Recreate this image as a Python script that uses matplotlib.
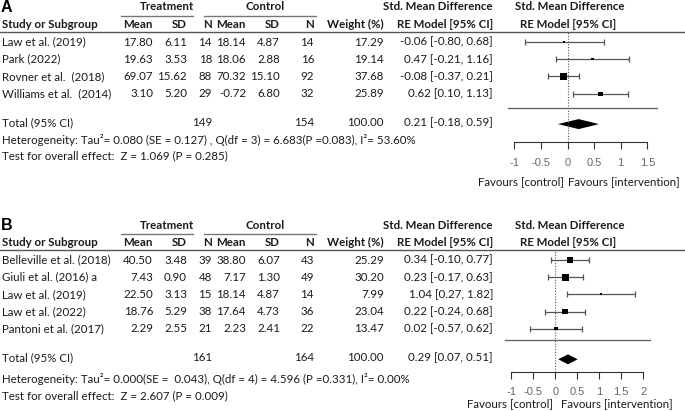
import numpy as np
import matplotlib.pyplot as plt

# ---- panel A data
a_study = ['Law et al. (2019)', 'Park (2022)', 'Rovner et al.  (2018)', 'Williams et al.  (2014)']
a_t_mean = ['17.80', '19.63', '69.07', '3.10']
a_t_sd = ['6.11', '3.53', '15.62', '5.20']
a_t_n = [14, 18, 88, 29]
a_c_mean = ['18.14', '18.06', '70.32', '-0.72']
a_c_sd = ['4.87', '2.88', '15.10', '6.80']
a_c_n = [14, 16, 92, 32]
a_weight = [17.29, 19.14, 37.68, 25.89]
a_smd = [-0.06, 0.47, -0.08, 0.62]
a_lo = [-0.80, -0.21, -0.37, 0.10]
a_hi = [0.68, 1.16, 0.21, 1.13]
a_total = [0.21, -0.18, 0.59]
a_het = 'Heterogeneity: Tau\u00b2= 0.080 (SE = 0.127) , Q(df = 3) = 6.683(P =0.083), I\u00b2= 53.60%'
a_test = 'Test for overall effect:  Z = 1.069 (P = 0.285)'
a_ticks = [-1, -0.5, 0, 0.5, 1, 1.5]

# ---- panel B data
b_study = ['Belleville et al. (2018)', 'Giuli et al. (2016) a', 'Law et al. (2019)',
           'Law et al. (2022)', 'Pantoni et al. (2017)']
b_t_mean = ['40.50', '7.43', '22.50', '18.76', '2.29']
b_t_sd = ['3.48', '0.90', '3.13', '5.29', '2.55']
b_t_n = [39, 48, 15, 38, 21]
b_c_mean = ['38.80', '7.17', '18.14', '17.64', '2.23']
b_c_sd = ['6.07', '1.30', '4.87', '4.73', '2.41']
b_c_n = [43, 49, 14, 36, 22]
b_weight = [25.29, 30.20, 7.99, 23.04, 13.47]
b_smd = [0.34, 0.23, 1.04, 0.22, 0.02]
b_lo = [-0.10, -0.17, 0.27, -0.24, -0.57]
b_hi = [0.77, 0.63, 1.82, 0.68, 0.62]
b_total = [0.29, 0.07, 0.51]
b_het = 'Heterogeneity: Tau\u00b2= 0.000(SE =  0.043), Q(df = 4) = 4.596 (P =0.331), I\u00b2= 0.00%'
b_test = 'Test for overall effect:  Z = 2.607 (P = 0.009)'
b_ticks = [-1, -0.5, 0, 0.5, 1, 1.5, 2]

W, H = 685, 411
FONT = 'Lato'
FS = 8.3
TXT = '#1a1a1a'

fig = plt.figure(figsize=(W / 100, H / 100), dpi=100)
tx = fig.add_axes([0, 0, 1, 1])
tx.set_xlim(0, W)
tx.set_ylim(H, 0)
tx.axis('off')


def t(x, y, s, ha='left', bold=False, **kw):
    tx.text(x, y, s, ha=ha, va='center', fontsize=kw.pop('fs', FS), family=kw.pop('family', FONT),
            fontweight='bold' if bold else 'normal', color=kw.pop('color', TXT), **kw)


# column right edges
cols = [153, 187, 212, 246, 280, 314, 384, 493]


def panel(letter, y0, study, tm, tsd, tn, cm, csd, cn, wt, smd, lo, hi, tot, het, test,
          ticks, zero_px, unit_px, sep, sep_y, axis_y, fav, fav_y, stat_gap):
    # headers
    t(1, y0 + 1, letter, bold=True, fs=11.5, family='Liberation Sans', color='black')
    t(167, y0 + 1, 'Treatment', ha='center', bold=True)
    t(265, y0 + 1, 'Control', ha='center', bold=True)
    tx.plot([121, 193], [y0 + 10, y0 + 10], color='#777777', lw=1)
    tx.plot([204, 316], [y0 + 10, y0 + 10], color='#777777', lw=1)
    hy = y0 + 18
    t(2, hy, 'Study or Subgroup', bold=True)
    for x, s in zip(cols[:6], ['Mean', 'SD', 'N', 'Mean', 'SD', 'N']):
        t(x, hy, s, ha='right', bold=True)
    t(cols[6], hy, 'Weight (%)', ha='right', bold=True)
    t(cols[7], y0 + 1, 'Std. Mean Difference', ha='right', bold=True)
    t(cols[7], hy, 'RE Model [95% CI]', ha='right', bold=True)
    t(570, y0 + 1, 'Std. Mean Difference', ha='center', bold=True)
    t(568, hy, 'RE Model [95% CI]', ha='center', bold=True)
    line_y = y0 + 26
    tx.plot([0, W], [line_y, line_y], color='#555555', lw=1)

    rows = [line_y + 10 + 17.2 * i for i in range(len(study))]
    for i, y in enumerate(rows):
        t(2, y, study[i])
        vals = [tm[i], tsd[i], str(tn[i]), cm[i], csd[i], str(cn[i]), f'{wt[i]:.2f}',
                f'{smd[i]:.2f} [{lo[i]:.2f}, {hi[i]:.2f}]']
        for x, s in zip(cols, vals):
            t(x, y, s, ha='right')
    ty = rows[-1] + 29
    t(2, ty, 'Total (95% CI)')
    t(cols[2], ty, str(sum(tn)), ha='right')
    t(cols[5], ty, str(sum(cn)), ha='right')
    t(cols[6], ty, '100.00', ha='right')
    t(cols[7], ty, f'{tot[0]:.2f} [{tot[1]:.2f}, {tot[2]:.2f}]', ha='right')
    t(2, ty + stat_gap, het)
    t(2, ty + stat_gap + 16.5, test)

    # forest axes, y in pixel units, x in SMD units
    left, right = 495, 685
    ax = fig.add_axes([left / W, (H - axis_y) / H, (right - left) / W, (axis_y - line_y) / H])
    ax.set_xlim((left - zero_px) / unit_px, (right - zero_px) / unit_px)
    ax.set_ylim(axis_y, line_y)
    ax.patch.set_alpha(0)
    for s in ['top', 'left', 'right']:
        ax.spines[s].set_visible(False)
    ax.spines['bottom'].set_bounds(ticks[0], ticks[-1])
    ax.spines['bottom'].set_color('#333333')
    ax.set_yticks([])
    ax.set_xticks(ticks)
    ax.set_xticklabels([f'{v:g}' for v in ticks], family='Liberation Sans', fontsize=8, color='#666666')
    ax.tick_params(axis='x', direction='out', length=5, color='#333333', pad=6)
    ax.axvline(0, color='#555555', lw=0.8, ls=(0, (1, 1.5)))

    w = np.array(wt)
    size_px = 2 + 5 * (w - w.min()) / (w.max() - w.min())
    smd_a = np.array(smd)
    ax.errorbar(smd_a, rows, xerr=[smd_a - np.array(lo), np.array(hi) - smd_a], fmt='none',
                ecolor='#555555', elinewidth=0.9, capsize=2.2, capthick=0.9)
    ax.scatter(smd_a, rows, marker='s', s=(size_px * 0.72) ** 2, color='black', zorder=3, linewidths=0)
    dy = ty + 1.5
    ax.fill([tot[1], tot[0], tot[2], tot[0]], [dy, dy - 5, dy, dy + 5], color='black', lw=0)
    ax.plot([sep[0], sep[1]], [sep_y, sep_y], color='#666666', lw=1, clip_on=False)

    t(fav[0], fav_y, 'Favours [control]', ha='center')
    t(fav[1], fav_y, 'Favours [intervention]', ha='center')


panel('A', 6, a_study, a_t_mean, a_t_sd, a_t_n, a_c_mean, a_c_sd, a_c_n, a_weight,
      a_smd, a_lo, a_hi, a_total, a_het, a_test, a_ticks, 567.5, 53.2,
      ((508 - 567.5) / 53.2, (657 - 567.5) / 53.2), 108, 142.5, (521, 624), 182, 17)
panel('B', 224, b_study, b_t_mean, b_t_sd, b_t_n, b_c_mean, b_c_sd, b_c_n, b_weight,
      b_smd, b_lo, b_hi, b_total, b_het, b_test, b_ticks, 555.2, 44.0,
      ((505 - 555.2) / 44.0, (650 - 555.2) / 44.0), 340.5, 371.5, (510, 617), 404, 21)

fig.savefig('out.png', dpi=100)
